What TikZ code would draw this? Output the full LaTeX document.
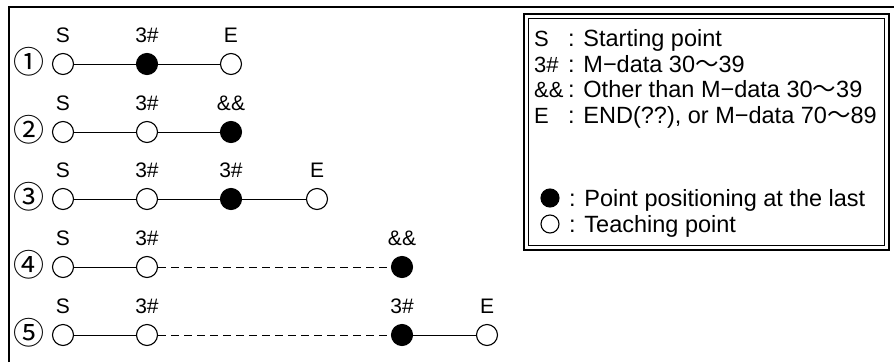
\documentclass[tikz,border=0pt]{standalone}
\usepackage{fontspec}
\setmainfont{Liberation Sans}
\newfontfamily\cjk{Noto Sans CJK JP}
\usetikzlibrary{positioning}

\begin{document}
\begin{tikzpicture}[
        x=1pt, y=1pt,
        dot/.style={circle, draw=black, line width=1.1pt, minimum size=21pt, inner sep=0pt},
        teachpt/.style={dot, fill=white},
        lastpt/.style={dot, fill=black},
        every label/.style={font=\fontsize{21}{21}\selectfont, inner sep=0pt, text height=15pt, text depth=0pt, yshift=10.5pt},
        num/.style={font=\cjk\fontsize{31}{31}\selectfont, inner sep=0pt},
        key/.style={font=\fontsize{22}{22}\selectfont, inner sep=0pt, anchor=base west},
        desc/.style={font=\fontsize{23.5}{23.5}\selectfont, inner sep=0pt, anchor=base west},
        wire/.style={line width=0.9pt},
        dashwire/.style={wire, dash pattern=on 8pt off 5pt}
    ]
    \useasboundingbox (0,0) rectangle (894,-362);

    % Ramka zewnetrzna (ucieta z prawej i od dolu)
    \draw[line width=2.2pt] (9,-362) -- (9,-7) -- (894,-7);

    % Wiersz 1
    \node[num] (n1) at (29,-62) {①};
    \node[teachpt, label=above:S] (r1a) at (63,-64) {};
    \node[lastpt, label=above:3\#] (r1b) at (147,-64) {};
    \node[teachpt, label=above:E] (r1c) at (231,-64) {};
    \draw[wire] (r1a) -- (r1b) -- (r1c);

    % Wiersz 2
    \node[num] (n2) at (29,-130) {②};
    \node[teachpt, label=above:S] (r2a) at (63,-132) {};
    \node[teachpt, label=above:3\#] (r2b) at (147,-132) {};
    \node[lastpt, label=above:\&\&] (r2c) at (231,-132) {};
    \draw[wire] (r2a) -- (r2b) -- (r2c);

    % Wiersz 3
    \node[num] (n3) at (29,-197) {③};
    \node[teachpt, label=above:S] (r3a) at (63,-199) {};
    \node[teachpt, label=above:3\#] (r3b) at (147,-199) {};
    \node[lastpt, label=above:3\#] (r3c) at (231,-199) {};
    \node[teachpt, label=above:E] (r3d) at (317,-199) {};
    \draw[wire] (r3a) -- (r3b) -- (r3c) -- (r3d);

    % Wiersz 4 (przerwa kreskowana)
    \node[num] (n4) at (29,-265) {④};
    \node[teachpt, label=above:S] (r4a) at (63,-267) {};
    \node[teachpt, label=above:3\#] (r4b) at (147,-267) {};
    \node[lastpt, label=above:\&\&] (r4c) at (402,-267) {};
    \draw[wire] (r4a) -- (r4b);
    \draw[dashwire] (r4b) -- (r4c);

    % Wiersz 5
    \node[num] (n5) at (29,-333) {⑤};
    \node[teachpt, label=above:S] (r5a) at (63,-335) {};
    \node[teachpt, label=above:3\#] (r5b) at (147,-335) {};
    \node[lastpt, label=above:3\#] (r5c) at (402,-335) {};
    \node[teachpt, label=above:E] (r5d) at (487,-335) {};
    \draw[wire] (r5a) -- (r5b);
    \draw[dashwire] (r5b) -- (r5c);
    \draw[wire] (r5c) -- (r5d);

    % Legenda (podwojna ramka)
    \draw[line width=1.8pt] (524,-14) rectangle (889,-250);
    \draw[line width=1pt] (528.5,-18.5) rectangle (884.5,-245.5);

    \node[key] (kS) at (534,-46.5) {S};
    \node[key] (kM) at (534,-72) {3\#};
    \node[key] (kO) at (534,-97.5) {\&\&};
    \node[key] (kE) at (534,-123) {E};
    \node[desc] (dS) at (568,-46.5) {: Starting point};
    \node[desc] (dM) at (568,-72) {: M−data 30{\cjk ～}39};
    \node[desc] (dO) at (568,-97.5) {: Other than M−data 30{\cjk ～}39};
    \node[desc] (dE) at (568,-123) {: END(??), or M−data 70{\cjk ～}89};

    \node[lastpt, minimum size=18pt] (kL) at (550,-198) {};
    \node[teachpt, minimum size=18pt] (kT) at (550,-224) {};
    \node[desc] (dL) at (569,-206.4) {: Point positioning at the last};
    \node[desc] (dT) at (569,-232.4) {: Teaching point};

\end{tikzpicture}
\end{document}
